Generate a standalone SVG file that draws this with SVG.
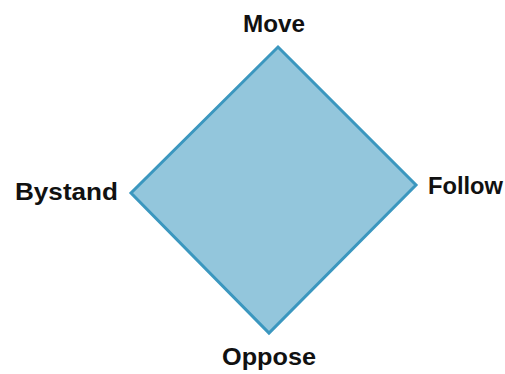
<svg xmlns="http://www.w3.org/2000/svg" width="505" height="374" viewBox="0 0 505 374">
<style>
.lbl{font-family:"Liberation Sans","DejaVu Sans",sans-serif;font-weight:bold;font-size:24px;fill:#111}
.shape{fill:#93c6dc;stroke:#3b97bf;stroke-width:3;stroke-linejoin:miter}
</style>
<rect width="505" height="374" fill="#fff"/>
<g id="diamond"><polygon class="shape" points="278,47 416,185 269,333 131,193"/></g>
<g id="move"><text class="lbl" x="243" y="32" textLength="62" lengthAdjust="spacingAndGlyphs">Move</text></g>
<g id="follow"><text class="lbl" x="428" y="194" textLength="75" lengthAdjust="spacingAndGlyphs">Follow</text></g>
<g id="bystand"><text class="lbl" x="15" y="200" textLength="103" lengthAdjust="spacingAndGlyphs">Bystand</text></g>
<g id="oppose"><text class="lbl" x="222" y="365" textLength="94" lengthAdjust="spacingAndGlyphs">Oppose</text></g>
<g id="connectors"></g>
</svg>
